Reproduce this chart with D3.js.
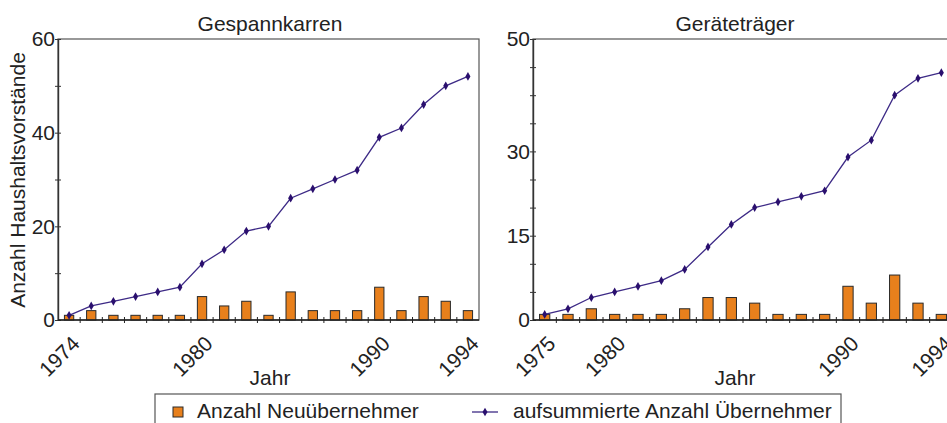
<!DOCTYPE html>
<html><head><meta charset="utf-8">
<script src="https://cdn.jsdelivr.net/npm/d3@7/dist/d3.min.js"></script>
<style>
body{margin:0;background:#fff;}
svg{display:block;font-family:"Liberation Sans",Arial,Helvetica,sans-serif;}
</style></head>
<body><svg id="c" width="947" height="423"></svg>
<script>
// ---- data ----
const leftTitle = "Gespannkarren";
const leftYears = ["1974","1975","1976","1977","1978","1979","1980","1981","1982","1983","1985","1986","1987","1989","1990","1991","1992","1993","1994"];
const leftNew = [1,2,1,1,1,1,5,3,4,1,6,2,2,2,7,2,5,4,2];
const leftCum = [1,3,4,5,6,7,12,15,19,20,26,28,30,32,39,41,46,50,52];
const leftYTicks = [0,10,20,30,40,50,60];
const leftYLabels = [0,20,40,60];
const leftXLabels = ["1974","1980","1990","1994"];

const rightTitle = "Geräteträger";
const rightYears = ["1975","1977","1979","1980","1981","1982","1983","1984","1985","1986","1987","1988","1989","1990","1991","1992","1993","1994"];
const rightNew = [1,1,2,1,1,1,2,4,4,3,1,1,1,6,3,8,3,1];
const rightCum = [1,2,4,5,6,7,9,13,17,20,21,22,23,29,32,40,43,44];
const rightYTicks = [0,5,10,15,20,25,30,35,40,45,50];
const rightYLabels = [0,15,30,50];
const rightXLabels = ["1975","1980","1990","1994"];

const yTitle = "Anzahl Haushaltsvorstände";
const xTitle = "Jahr";
const legendLabels = ["Anzahl Neuübernehmer","aufsummierte Anzahl Übernehmer"];

// ---- style ----
const barColor = "#e8801c", barStroke = "#2a2a2a";
const lineColor = "#3d2a86", dotColor = "#2a0f6e";
const fontSize = 21, tickFont = 21;

const svg = d3.select("#c");

function panel(cfg){
  const g = svg.append("g").attr("transform",`translate(${cfg.left},${cfg.top})`);
  const W = cfg.width, H = cfg.height;
  const x = d3.scaleBand().domain(cfg.years).range([0,W]).padding(0);
  const y = d3.scaleLinear().domain([0,cfg.ymax]).range([H,0]);
  const bw = x.bandwidth();

  // frame
  g.append("rect").attr("x",0).attr("y",0).attr("width",W).attr("height",H)
    .attr("fill","none").attr("stroke","#555").attr("stroke-width",1.2);

  // bars
  g.selectAll("rect.bar").data(cfg.years).join("rect").attr("class","bar")
    .attr("x",d=>x(d)+bw*cfg.barOff).attr("width",bw*cfg.barFrac)
    .attr("y",(d,i)=>y(cfg.newv[i])).attr("height",(d,i)=>H-y(cfg.newv[i]))
    .attr("fill",barColor).attr("stroke",barStroke).attr("stroke-width",1);

  // line
  const line = d3.line().x((d,i)=>x(cfg.years[i])+bw/2).y(d=>y(d));
  g.append("path").datum(cfg.cum).attr("d",line).attr("fill","none")
    .attr("stroke",lineColor).attr("stroke-width",1.3);
  g.selectAll("path.dot").data(cfg.cum).join("path").attr("class","dot")
    .attr("transform",(d,i)=>`translate(${x(cfg.years[i])+bw/2},${y(d)})`)
    .attr("d",d3.symbol().type(d3.symbolDiamond).size(22)).attr("fill",dotColor);

  // y axis
  const ya = d3.axisLeft(y).tickValues(cfg.yticks).tickSizeInner(3).tickSizeOuter(0)
    .tickFormat(d=>cfg.ylabels.includes(d)?d:"");
  const yg = g.append("g").call(ya);
  yg.select(".domain").attr("stroke","#333").attr("stroke-width",1.4);
  yg.selectAll(".tick line").attr("x2",3).attr("x1",-3).attr("stroke","#333");
  yg.selectAll(".tick text").attr("x",-3).attr("font-size",tickFont).attr("fill","#222")
    .attr("font-family","Liberation Sans, Arial, sans-serif");

  // x axis
  const xg = g.append("g").attr("transform",`translate(0,${H})`);
  xg.append("line").attr("x1",0).attr("x2",W).attr("stroke","#222").attr("stroke-width",1.6);
  const bounds = cfg.years.map(d=>x(d)).slice(1);
  xg.selectAll("line.tk").data(bounds).join("line").attr("class","tk")
    .attr("x1",d=>d).attr("x2",d=>d).attr("y1",-3).attr("y2",3).attr("stroke","#222");
  xg.selectAll("text").data(cfg.xlabels).join("text")
    .attr("transform",d=>`translate(${x(d)+bw/2+cfg.lblDx},${cfg.lblDy}) rotate(-45)`)
    .attr("text-anchor","end").attr("font-size",tickFont).attr("fill","#222").text(d=>d);

  // titles
  svg.append("text").attr("x",cfg.titleX).attr("y",31).attr("text-anchor","middle")
    .attr("font-size",fontSize).attr("fill","#222").text(cfg.title);
  svg.append("text").attr("x",cfg.titleX).attr("y",385).attr("text-anchor","middle")
    .attr("font-size",fontSize).attr("fill","#222").text(xTitle);
}

panel({left:58, top:39, width:421, height:281, years:leftYears, newv:leftNew, cum:leftCum,
  ymax:60, yticks:leftYTicks, ylabels:leftYLabels, xlabels:leftXLabels,
  barFrac:0.42, barOff:0.29, lblDx:12, lblDy:25, title:leftTitle, titleX:270});
panel({left:533, top:39, width:420, height:281, years:rightYears, newv:rightNew, cum:rightCum,
  ymax:50, yticks:rightYTicks, ylabels:rightYLabels, xlabels:rightXLabels,
  barFrac:0.44, barOff:0.28, lblDx:12, lblDy:25, title:rightTitle, titleX:735});

// y title
svg.append("text").attr("transform","translate(25,180) rotate(-90)").attr("text-anchor","middle")
  .attr("font-size",fontSize).attr("fill","#222").text(yTitle);

// legend
const lg = svg.append("g");
lg.append("rect").attr("x",155).attr("y",394).attr("width",686).attr("height",40)
  .attr("fill","none").attr("stroke","#555").attr("stroke-width",1.2);
lg.append("rect").attr("x",173).attr("y",407).attr("width",10).attr("height",10)
  .attr("fill",barColor).attr("stroke",barStroke);
lg.append("text").attr("x",197).attr("y",418).attr("font-size",fontSize).attr("fill","#222").text(legendLabels[0]);
lg.append("line").attr("x1",472).attr("x2",498).attr("y1",412).attr("y2",412)
  .attr("stroke",lineColor).attr("stroke-width",1.3);
lg.append("path").attr("transform","translate(485,412)")
  .attr("d",d3.symbol().type(d3.symbolDiamond).size(22)).attr("fill",dotColor);
lg.append("text").attr("x",513).attr("y",418).attr("font-size",fontSize).attr("fill","#222").text(legendLabels[1]);
</script></body></html>
